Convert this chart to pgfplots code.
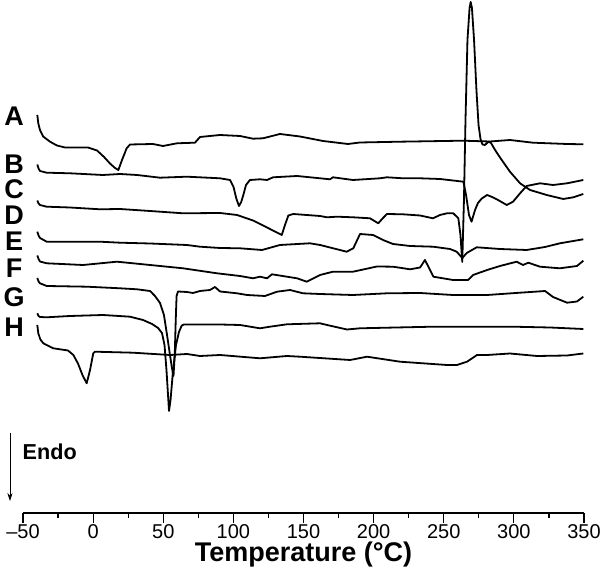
\documentclass[border=0pt]{standalone}
\usepackage{fontspec}
\setmainfont{Liberation Sans}
\usepackage{pgfplots}
\pgfplotsset{compat=1.18}
\usetikzlibrary{arrows.meta}

\begin{document}
\begin{tikzpicture}
\begin{axis}[
  name=ax,
  scale only axis, width=280.5pt, height=256.5pt,
  xmin=-50, xmax=350, ymin=0, ymax=513,
  hide y axis, axis x line*=bottom,
  clip=false,
  xtick={-50,0,...,350},
  xticklabels={\textendash50,0,50,100,150,200,250,300,350},
  minor x tick num=1,
  tick align=outside,
  major tick length=4.8pt, minor tick length=2.5pt,
  every tick/.style={black, line width=0.6pt},
  axis line style={line width=0.6pt},
  tick label style={font=\fontsize{10}{12}\selectfont, yshift=2.5pt},
  xlabel={Temperature (°C)},
  xlabel style={font=\bfseries\fontsize{13.5}{16}\selectfont, yshift=5.5pt},
  every axis plot post/.style={black, solid, line width=0.9pt, line join=round, mark=none},
]
% A
\addplot coordinates {(-39.8,398) (-39.1,389.7) (-37.9,383) (-35.5,376.3) (-30.7,371.3) (-25.8,367.5) (-20.1,365.5) (-3.7,365.5) (2.8,362.5) (7.8,356) (12.0,349.5) (15.6,345) (18.0,343) (20.6,353) (23.9,364.7) (26.3,368.5) (42.7,369) (49.8,367) (59.8,369.7) (72.6,370.3) (76.2,376) (90.5,378) (104.7,377) (114.0,374.3) (121.1,374.7) (133.2,379) (147.5,376.5) (163.9,372) (181.7,369) (190.3,370.5) (218.8,371.3) (263.7,372.3) (283.0,371.5) (297.2,373) (313.6,370.3) (337.9,369) (349.5,368.7)};
% B
\addplot coordinates {(-39.8,348.5) (-38.9,344.5) (-37.9,342) (-33.1,340.3) (-16.5,339.7) (7.0,338) (19.2,339) (31.3,338) (47.7,335.3) (66.9,336.3) (90.5,334.7) (97.6,333) (100.1,326) (102.2,314) (104.0,307) (105.6,311) (107.1,318) (109.0,328) (111.8,333) (119.0,333.7) (124.0,333) (128.3,335.7) (145.4,337) (161.8,334.7) (168.9,333.7) (171.0,335.7) (185.3,333) (204.5,334.7) (209.5,335.7) (220.9,334.7) (233.1,334.7) (247.3,334) (264.0,331.3) (265.9,318) (268.0,298) (269.8,291.3) (272.3,303) (274.4,310) (277.1,314.5) (280.9,318) (284.5,316) (288.7,313) (294.9,308) (299.4,311.3) (304.4,319.7) (309.1,327) (318.6,329.7) (327.9,328) (337.9,329.7) (349.5,333)};
% C
\addplot coordinates {(-39.8,312.5) (-38.9,309.5) (-37.9,308) (-33.1,306.3) (-16.5,305.5) (4.9,303.7) (19.2,304) (40.6,302) (64.1,299.7) (90.5,300) (102.6,298) (114.0,292.5) (124.0,285.5) (134.5,278) (136.8,288) (139.2,297.5) (142.7,299) (161.8,297) (166.8,295.7) (173.9,296.3) (185.3,295.7) (197.4,294.7) (203.3,289.7) (206.7,295) (209.5,299) (220.9,298.7) (233.1,297.5) (242.3,294.7) (247.3,298) (252.3,299.7) (256.8,299.7) (260.4,294.7) (261.9,278) (263.2,251) (264.4,313) (265.5,393) (266.9,473) (268.4,505) (269.2,511) (270.1,505) (271.6,473) (273.3,423) (274.8,388) (276.2,374) (277.6,368.5) (279.4,368) (281.8,371.3) (283.7,370) (286.6,363) (290.1,355.5) (297.2,341.3) (304.4,329.7) (311.5,323) (323.4,318) (335.2,314) (342.4,315.7) (349.5,319)};
% D
\addplot coordinates {(-39.8,281.3) (-38.9,277.5) (-37.9,275) (-33.1,271.3) (-18.6,271.3) (4.9,271.3) (19.2,270.3) (40.6,269.5) (66.9,268) (76.2,266.3) (90.5,265) (104.7,264.7) (120.4,263) (133.2,268) (154.6,269.7) (161.8,268) (180.8,261.3) (185.5,264.7) (190.3,279) (199.6,278) (206.7,273) (213.8,269) (226.0,267) (242.3,266.3) (254.5,264) (259.2,261.3) (263.2,255) (266.4,260) (273.5,265.7) (290.1,264) (309.1,263) (322.2,266) (332.8,269.7) (349.5,273.7)};
% E
\addplot coordinates {(-39.8,257.5) (-38.9,254) (-37.9,251.5) (-33.1,249.7) (-7.2,248) (17.0,251.3) (40.6,248) (64.1,244.7) (88.3,239.7) (104.7,237) (114.0,234.7) (119.0,236.3) (124.0,234.7) (127.5,238.7) (138.2,236.3) (145.4,234.7) (152.3,231.3) (161.8,238) (171.0,241.3) (185.3,241.3) (202.4,246.5) (213.8,246.3) (226.0,243.7) (233.1,245.5) (236.6,253) (239.5,245) (242.6,236.3) (256.6,233) (267.3,233) (270.9,238) (280.9,243) (290.1,247) (302.0,251.3) (306.5,248) (310.3,250.3) (318.6,246.3) (332.8,244.7) (345.0,247) (349.5,252.3)};
% F
\addplot coordinates {(-39.8,235) (-38.9,231.5) (-37.9,229.7) (-33.1,227) (-4.4,226.3) (19.2,224.7) (31.3,223.7) (40.6,222) (44.1,217) (47.7,210) (50.5,198) (52.7,178) (54.8,158) (56.2,145) (57.3,137) (58.2,158) (58.9,193) (59.5,217) (60.5,221.5) (66.9,221) (71.2,220) (76.2,222) (83.3,223) (86.9,226) (90.5,221.5) (102.6,219.7) (109.7,218) (122.5,217) (131.1,221.3) (140.4,223) (149.6,219.7) (161.8,219) (185.3,218) (209.5,219.7) (233.1,220) (256.6,218) (280.9,218) (304.4,220.3) (317.2,221.5) (322.2,222) (327.9,216) (337.9,210.3) (345.0,211.5) (349.5,216.3)};
% G
\addplot coordinates {(-39.8,199.7) (-38.9,197) (-37.9,196) (-33.1,195.7) (-16.5,197) (7.0,198) (26.3,196.3) (35.6,193) (42.0,189) (46.3,185) (49.1,180) (50.9,168) (52.3,143) (53.4,118) (54.1,102) (55.2,113) (57.0,143) (59.1,168) (61.2,181) (63.2,187.5) (64.8,188.5) (90.5,188.5) (104.7,188) (119.0,184.7) (126.1,186.3) (138.2,188.7) (161.8,189.7) (166.8,188) (181.0,183.5) (190.3,184.7) (209.5,185.3) (242.3,186.3) (299.4,186.3) (325.8,185.5) (349.5,184)};
% H
\addplot coordinates {(-39.8,188) (-39.1,179.7) (-37.6,173.5) (-35.5,169.7) (-28.4,164.7) (-17.9,162.5) (-14.1,158) (-10.8,149.5) (-7.6,138) (-4.6,129.7) (-2.2,143) (0.1,159.7) (1.3,161.3) (28.4,160.3) (54.8,158) (66.9,159) (76.2,157) (90.5,158) (119.0,154.7) (138.2,157) (147.5,156.3) (183.2,153) (195.3,156.3) (218.8,151.3) (252.3,148) (259.4,148) (266.6,151.3) (273.7,158) (280.9,158) (297.2,159.5) (316.5,157) (337.9,157.5) (349.5,159.5)};

\tikzset{lbl/.style={font=\bfseries\fontsize{13.5}{15}\selectfont, inner sep=0pt}}
\node[lbl] at (axis cs:-56.4,397) {A};
\node[lbl] at (axis cs:-56.4,349) {B};
\node[lbl] at (axis cs:-56.4,324) {C};
\node[lbl] at (axis cs:-56.4,298) {D};
\node[lbl] at (axis cs:-56.4,272) {E};
\node[lbl] at (axis cs:-56.4,245) {F};
\node[lbl] at (axis cs:-56.4,216) {G};
\node[lbl] at (axis cs:-56.4,186) {H};

\draw[line width=0.4pt, -{Stealth[length=4pt,width=2.6pt]}] (axis cs:-59.3,80) -- (axis cs:-59.3,12);
\node[anchor=west, inner sep=0pt, font=\bfseries\fontsize{10.8}{13}\selectfont] at (axis cs:-50.5,61) {Endo};
\end{axis}
\pgfresetboundingbox
\path ([xshift=-11.5pt,yshift=-29pt]ax.south west) rectangle ([xshift=9.5pt]ax.north east);
\end{tikzpicture}
\end{document}
